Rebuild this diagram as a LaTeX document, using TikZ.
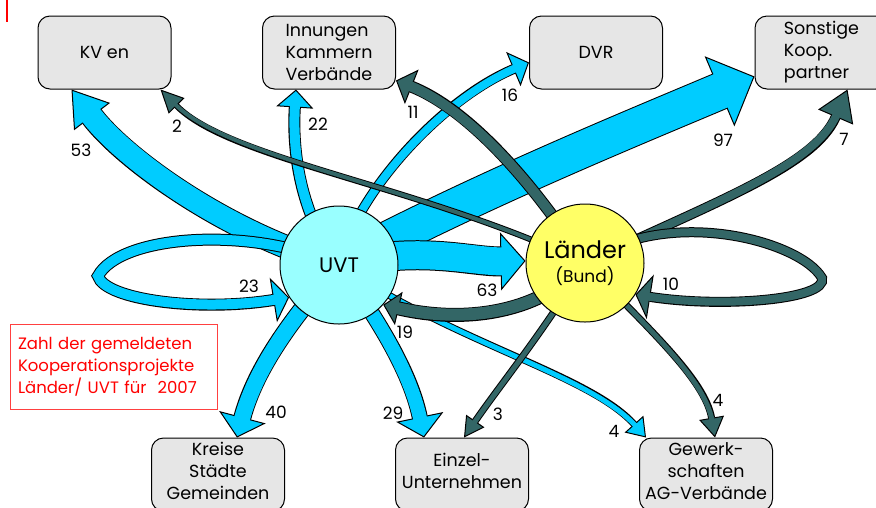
\documentclass[tikz,border=0pt]{standalone}
\usepackage{fontspec}
\setmainfont{Poppins}
\usetikzlibrary{arrows.meta}

\definecolor{uvtcyan}{HTML}{00CCFF}
\definecolor{laenderteal}{HTML}{336666}
\definecolor{uvtfill}{HTML}{99FFFF}
\definecolor{laenderfill}{HTML}{FFFF66}
\definecolor{boxgray}{HTML}{E6E6E6}

\pgfdeclarelayer{flows}
\pgfsetlayers{flows,main}

% colour, shaft width, head length, head width, path
\newcommand\flow[5]{%
  \pgfmathsetmacro\flowouter{#2+2}%
  \pgfmathsetmacro\flowshort{#3-3}%
  \draw[black, line width=\flowouter pt,
    -{Triangle[length=#3pt, width=#4pt, line width=1pt, color=black, fill=#1]}] #5;
  \draw[#1, line width=#2pt, shorten >=\flowshort pt] #5;
}

\tikzset{
  partner/.style={draw, fill=boxgray, line width=1pt, rounded corners=12pt,
    minimum width=133pt, minimum height=73pt, inner sep=2pt,
    font=\fontsize{17.5}{22}\selectfont},
  lowpartner/.style={partner, align=center, text depth=7pt},
  hub/.style={circle, draw, line width=1pt, minimum size=118pt, inner sep=0pt},
  count/.style={inner sep=0pt, font=\fontsize{17}{20}\selectfont},
}

\begin{document}
\begin{tikzpicture}[x=1pt, y=-1pt]
\useasboundingbox (0,0) rectangle (876,507);

\node[partner] (kv) at (104.5,52.5) {KV en};
\node[partner, align=left] (inn) at (329,52.5) {Innungen\\Kammern\\Verbände};
\node[partner] (dvr) at (596,52.5) {DVR};
\node[partner, align=left] (sonst) at (821.5,52.5) {Sonstige\\Koop.\\partner};
\node[lowpartner] (kreise) at (218,474.5) {Kreise\\Städte\\Gemeinden};
\node[lowpartner] (einzel) at (462,474.5) {Einzel-\\Unternehmen};
\node[lowpartner] (gewerk) at (706,474.5) {Gewerk-\\schaften\\AG-Verbände};

\node[hub, fill=uvtfill, font=\fontsize{21}{26}\selectfont] (uvt) at (339,265) {UVT};
\node[hub, fill=laenderfill, align=center] (laender) at (585,263)
  {{\fontsize{24}{28}\selectfont Länder}\\[7pt]{\fontsize{17}{20}\selectfont (Bund)}};

\begin{pgfonlayer}{flows}
\flow{uvtcyan}{36}{38}{76}{(uvt.center) .. controls (480,190) and (640,125) .. ([yshift=-24pt]sonst.west)}
\flow{uvtcyan}{22}{34}{45}{(uvt.center) .. controls (230,235) and (125,160) .. ([xshift=34pt]kv.south west)}
\flow{uvtcyan}{10}{16}{45}{(uvt.center) .. controls (250,225) and (120,235) .. (98,276) .. controls (105,300) and (200,312) .. (uvt.213)}
\flow{uvtcyan}{28}{25}{58}{(uvt.center) .. controls (420,245) and (470,262) .. (laender.178)}
\flow{uvtcyan}{10}{18}{37}{(uvt.center) .. controls (300,215) and (292,150) .. ([xshift=34pt]inn.south west)}
\flow{uvtcyan}{8}{17}{37}{(uvt.center) .. controls (355,195) and (440,100) .. ([yshift=-10pt]dvr.west)}
\flow{uvtcyan}{16}{21}{48}{(uvt.center) .. controls (290,320) and (255,370) .. ([xshift=86pt]kreise.north west)}
\flow{uvtcyan}{14}{21}{48}{(uvt.center) .. controls (375,315) and (410,370) .. ([xshift=29pt]einzel.north west)}
\flow{uvtcyan}{5}{18}{25}{(uvt.center) .. controls (460,345) and (590,375) .. ([xshift=7pt]gewerk.north west)}

\flow{laenderteal}{4}{23}{22}{(laender.center) .. controls (420,185) and (230,160) .. ([xshift=-11pt]kv.south east)}
\flow{laenderteal}{10}{17}{37}{(laender.center) .. controls (535,185) and (470,110) .. ([yshift=9pt]inn.south east)}
\flow{laenderteal}{8}{30}{38}{(laender.center) .. controls (720,200) and (815,165) .. ([xshift=93pt]sonst.south west)}
\flow{laenderteal}{8}{15}{45}{(laender.center) .. controls (665,205) and (800,240) .. (822,278) .. controls (828,300) and (720,308) .. (laender.-32)}
\flow{laenderteal}{12}{16}{34}{(laender.center) .. controls (545,310) and (470,325) .. (uvt.-42)}
\flow{laenderteal}{5}{20}{22}{(laender.center) .. controls (545,330) and (500,385) .. ([xshift=69pt]einzel.north west)}
\flow{laenderteal}{5}{20}{25}{(laender.center) .. controls (650,330) and (705,380) .. ([xshift=76pt]gewerk.north west)}
\end{pgfonlayer}

\node[count] (n53) at (81,150) {53};
\node[count] (n2) at (177,126) {2};
\node[count] (n22) at (318,124) {22};
\node[count] (n11) at (413,112) {11};
\node[count] (n16) at (510,95) {16};
\node[count] (n97) at (723,140) {97};
\node[count] (n7) at (844,139) {7};
\node[count] (n23) at (249,286) {23};
\node[count] (n63) at (487,290) {63};
\node[count] (n10) at (671,284) {10};
\node[count] (n19) at (405,332) {19};
\node[count] (n40) at (276,412) {40};
\node[count] (n29) at (393,413) {29};
\node[count] (n3) at (498,414) {3};
\node[count] (n4u) at (614,431) {4};
\node[count] (n4l) at (718,400) {4};

\node[draw=red!75, line width=1pt, text=red, align=left, text width=191pt,
  inner xsep=8pt, minimum height=85pt, font=\fontsize{16.5}{22}\selectfont]
  (legend) at (113.5,366.5) {Zahl der gemeldeten\\Kooperationsprojekte\\Länder/ UVT für\ \ 2007};

\draw[red, line width=1.2pt] (7,0) -- (7,22);
\end{tikzpicture}
\end{document}
